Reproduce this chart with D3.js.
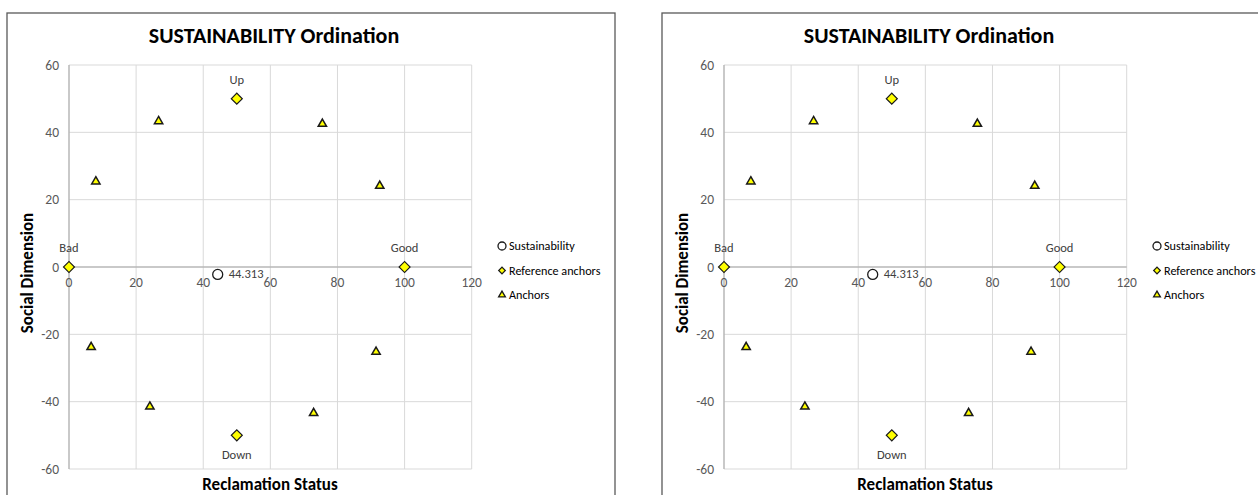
<!DOCTYPE html>
<html><head><meta charset="utf-8">
<script src="https://cdn.jsdelivr.net/npm/d3@7"></script>
<style>body{margin:0;background:#fff;}svg{display:block;}</style>
</head><body>
<svg id="c" width="1258" height="495"></svg>
<script>
const xTicks = [0, 20, 40, 60, 80, 100, 120];
const yTicks = [-60, -40, -20, 0, 20, 40, 60];
const sustainability = [{x: 44.313, y: -2.2, label: "44.313"}];
const refAnchors = [
  {x: 0, y: 0, label: "Bad", pos: "above"},
  {x: 100, y: 0, label: "Good", pos: "above"},
  {x: 50, y: 50, label: "Up", pos: "above"},
  {x: 50, y: -50, label: "Down", pos: "below"}
];
const anchorsX = [8.0, 26.7, 75.5, 92.6, 6.6, 24.1, 72.9, 91.5];
const anchorsY = [25.4, 43.3, 42.5, 24.1, -23.8, -41.5, -43.4, -25.2];
const legendItems = ["Sustainability", "Reference anchors", "Anchors"];
const chartTitle = "SUSTAINABILITY Ordination";
const xTitle = "Reclamation Status";
const yTitle = "Social Dimension";

const FONT = "Carlito, Calibri, Lato, 'Open Sans', sans-serif";
const svg = d3.select("#c");

function drawChart(offsetX) {
  const g = svg.append("g").attr("transform", `translate(${offsetX},0)`);
  g.append("rect").attr("x", 7).attr("y", 13).attr("width", 608).attr("height", 500)
    .attr("fill", "#fff").attr("stroke", "#595959").attr("stroke-width", 1.3);

  const x = d3.scaleLinear().domain([0, 120]).range([69, 471.7]);
  const y = d3.scaleLinear().domain([-60, 60]).range([469, 65]);

  g.append("g").selectAll("line").data(xTicks).join("line")
    .attr("x1", d => x(d)).attr("x2", d => x(d)).attr("y1", y(60)).attr("y2", y(-60))
    .attr("stroke", "#d9d9d9").attr("stroke-width", 1);
  g.append("g").selectAll("line").data(yTicks).join("line")
    .attr("y1", d => y(d)).attr("y2", d => y(d)).attr("x1", x(0)).attr("x2", x(120))
    .attr("stroke", "#d9d9d9").attr("stroke-width", 1);

  g.append("line").attr("x1", x(0)).attr("x2", x(120)).attr("y1", y(0)).attr("y2", y(0))
    .attr("stroke", "#a6a6a6").attr("stroke-width", 1);
  g.append("line").attr("x1", x(0)).attr("x2", x(0)).attr("y1", y(60)).attr("y2", y(-60))
    .attr("stroke", "#a6a6a6").attr("stroke-width", 1);

  g.append("g").selectAll("text").data(xTicks).join("text")
    .attr("x", d => x(d)).attr("y", y(0) + 20)
    .attr("text-anchor", "middle").attr("font-family", FONT).attr("font-size", 13.5)
    .attr("fill", "#595959").text(d => d);
  g.append("g").selectAll("text").data(yTicks).join("text")
    .attr("x", x(0) - 10).attr("y", d => y(d) + 4.5)
    .attr("text-anchor", "end").attr("font-family", FONT).attr("font-size", 13.5)
    .attr("fill", "#595959").text(d => d);

  g.append("text").attr("x", 274).attr("y", 43).attr("text-anchor", "middle")
    .attr("font-family", FONT).attr("font-weight", "bold").attr("font-size", 22)
    .attr("fill", "#000").text(chartTitle);
  g.append("text").attr("x", 270).attr("y", 490).attr("text-anchor", "middle")
    .attr("font-family", FONT).attr("font-weight", "bold").attr("font-size", 17)
    .attr("fill", "#000").text(xTitle);
  g.append("text").attr("transform", `translate(33,273) rotate(-90)`).attr("text-anchor", "middle")
    .attr("font-family", FONT).attr("font-weight", "bold").attr("font-size", 17)
    .attr("fill", "#000").text(yTitle);

  const tri = d3.symbol().type(d3.symbolTriangle).size(30);
  g.append("g").selectAll("path").data(anchorsX.map((v, i) => ({x: v, y: anchorsY[i]}))).join("path")
    .attr("d", tri).attr("transform", d => `translate(${x(d.x)},${y(d.y)})`)
    .attr("fill", "#ffff00").attr("stroke", "#1a1a1a").attr("stroke-width", 1.5);

  const dia = d3.symbol().type(d3.symbolSquare).size(60);
  g.append("g").selectAll("path").data(refAnchors).join("path")
    .attr("d", dia).attr("transform", d => `translate(${x(d.x)},${y(d.y)}) rotate(45)`)
    .attr("fill", "#ffff00").attr("stroke", "#1a1a1a").attr("stroke-width", 1.2);
  g.append("g").selectAll("text").data(refAnchors).join("text")
    .attr("x", d => x(d.x)).attr("y", d => d.pos === "above" ? y(d.y) - 15 : y(d.y) + 24)
    .attr("text-anchor", "middle").attr("font-family", FONT).attr("font-size", 12.5)
    .attr("fill", "#404040").text(d => d.label);

  g.append("g").selectAll("circle").data(sustainability).join("circle")
    .attr("cx", d => x(d.x)).attr("cy", d => y(d.y)).attr("r", 5)
    .attr("fill", "#fff").attr("stroke", "#1a1a1a").attr("stroke-width", 1.3);
  g.append("g").selectAll("text").data(sustainability).join("text")
    .attr("x", d => x(d.x) + 11).attr("y", d => y(d.y) + 4)
    .attr("font-family", FONT).attr("font-size", 12.5).attr("fill", "#404040").text(d => d.label);

  const lg = g.append("g");
  const ly = [246, 270.5, 295];
  lg.append("circle").attr("cx", 502).attr("cy", ly[0]).attr("r", 4)
    .attr("fill", "#fff").attr("stroke", "#1a1a1a").attr("stroke-width", 1.3);
  lg.append("path").attr("d", d3.symbol().type(d3.symbolSquare).size(22))
    .attr("transform", `translate(502,${ly[1]}) rotate(45)`)
    .attr("fill", "#ffff00").attr("stroke", "#1a1a1a").attr("stroke-width", 1.2);
  lg.append("path").attr("d", d3.symbol().type(d3.symbolTriangle).size(20))
    .attr("transform", `translate(502,${ly[2]})`)
    .attr("fill", "#ffff00").attr("stroke", "#1a1a1a").attr("stroke-width", 1.3);
  lg.selectAll("text").data(legendItems).join("text")
    .attr("x", 509).attr("y", (d, i) => ly[i] + 4)
    .attr("font-family", FONT).attr("font-size", 12.2).attr("fill", "#000").text(d => d);
}

drawChart(0);
drawChart(655);
</script>
</body></html>
